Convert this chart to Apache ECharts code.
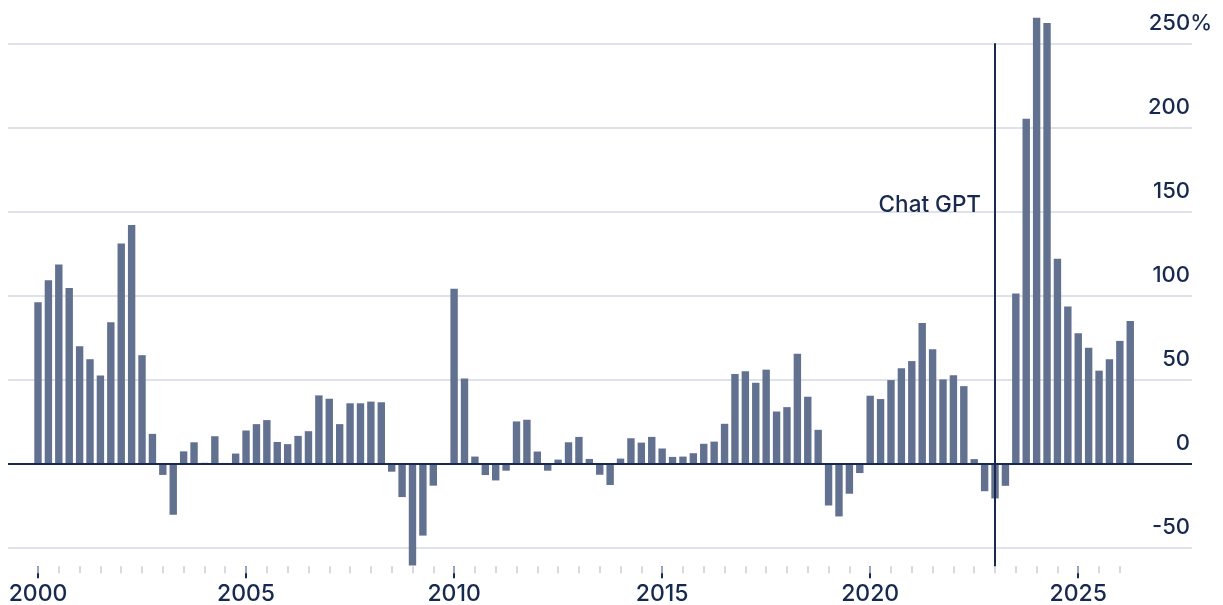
<!DOCTYPE html>
<html><head><meta charset="utf-8">
<script src="https://cdn.jsdelivr.net/npm/echarts@6/dist/echarts.min.js"></script>
<style>html,body{margin:0;padding:0;background:#fff}#c{width:1223px;height:605px}</style>
</head><body><div id="c"></div>
<script>
const quarters = [
 '2000Q1','2000Q2','2000Q3','2000Q4','2001Q1','2001Q2','2001Q3','2001Q4',
 '2002Q1','2002Q2','2002Q3','2002Q4','2003Q1','2003Q2','2003Q3','2003Q4',
 '2004Q1','2004Q2','2004Q3','2004Q4','2005Q1','2005Q2','2005Q3','2005Q4',
 '2006Q1','2006Q2','2006Q3','2006Q4','2007Q1','2007Q2','2007Q3','2007Q4',
 '2008Q1','2008Q2','2008Q3','2008Q4','2009Q1','2009Q2','2009Q3','2009Q4',
 '2010Q1','2010Q2','2010Q3','2010Q4','2011Q1','2011Q2','2011Q3','2011Q4',
 '2012Q1','2012Q2','2012Q3','2012Q4','2013Q1','2013Q2','2013Q3','2013Q4',
 '2014Q1','2014Q2','2014Q3','2014Q4','2015Q1','2015Q2','2015Q3','2015Q4',
 '2016Q1','2016Q2','2016Q3','2016Q4','2017Q1','2017Q2','2017Q3','2017Q4',
 '2018Q1','2018Q2','2018Q3','2018Q4','2019Q1','2019Q2','2019Q3','2019Q4',
 '2020Q1','2020Q2','2020Q3','2020Q4','2021Q1','2021Q2','2021Q3','2021Q4',
 '2022Q1','2022Q2','2022Q3','2022Q4','2023Q1','2023Q2','2023Q3','2023Q4',
 '2024Q1','2024Q2','2024Q3','2024Q4','2025Q1','2025Q2','2025Q3','2025Q4',
 '2026Q1','2026Q2'
];
const values = [
 96, 109, 118.5, 104.4,   69.8, 62.1, 52.4, 84.1,
 131, 142, 64.5, 17.7,    -6.7, -30.4, 7.3, 12.7,
 0.5, 16.3, 0.4, 6,       19.7, 23.5, 25.9, 12.9,
 11.6, 16.5, 19.3, 40.6,  38.6, 23.5, 35.9, 35.9,
 36.9, 36.5, -4.8, -19.9, -60.6, -42.8, -13.1, 0.3,
 104, 50.6, 4.2, -6.8,    -10, -4.2, 25.1, 26.1,
 7.2, -4.2, 2.4, 12.7,    15.9, 2.8, -6.6, -12.7,
 3.0, 15.1, 12.5, 15.9,   9.0, 4.0, 4.2, 6.2,
 11.8, 13.1, 23.7, 53.3,  54.9, 48.1, 55.9, 31.0,
 33.6, 65.4, 39.8, 20.1,  -24.9, -31.4, -17.9, -5.6,
 40.4, 38.4, 49.7, 56.7,  61.0, 83.7, 68.0, 50.1,
 52.5, 46.1, 2.7, -16.4,  -20.7, -13.2, 101.2, 205.2,
 265.2, 262.1, 121.9, 93.5, 77.6, 68.9, 55.3, 62.1,
 73.0, 84.9
];
const yTicks = [-50, 0, 50, 100, 150, 200, 250];
const xLabelYears = [2000, 2005, 2010, 2015, 2020, 2025];
const xHalfYearTicks = [
 2000,2000.5,2001,2001.5,2002,2002.5,2003,2003.5,2004,2004.5,
 2005,2005.5,2006,2006.5,2007,2007.5,2008,2008.5,2009,2009.5,
 2010,2010.5,2011,2011.5,2012,2012.5,2013,2013.5,2014,2014.5,
 2015,2015.5,2016,2016.5,2017,2017.5,2018,2018.5,2019,2019.5,
 2020,2020.5,2021,2021.5,2022,2022.5,2023,2023.5,2024,2024.5,
 2025,2025.5,2026
];
const eventName = 'Chat GPT';
const eventQuarter = '2023Q1';
const eventLabelLevel = 150;
const eventLineTop = 250;

const X_MIN = 1999.279, X_MAX = 2027.734, Y_MIN = -61, Y_MAX = 266;
const NAVY = '#18294f', BAR = '#627190', GRID = '#d4d9e4', MINOR = '#c9ced9';
const FONT = 'Inter';
const WEIGHT = 500;

function qPos(q){ return Number(q.slice(0,4)) + (Number(q.slice(5)) - 1) / 4; }
const barData = quarters.map((q, i) => [qPos(q), values[i]]);
const eventX = qPos(eventQuarter);

const chart = echarts.init(document.getElementById('c'));
const yLabelCommon = {
  color: NAVY, fontFamily: FONT, fontWeight: WEIGHT, fontSize: 22, lineHeight: 22,
  verticalAlign: 'bottom', padding: [0, 0, 9, 0]
};
chart.setOption({
  animation: false,
  backgroundColor: '#fff',
  grid: { left: 8, right: 31, top: 16.4, bottom: 38.8, outerBoundsMode: 'none' },
  xAxis: [
    { type: 'value', min: X_MIN, max: X_MAX, position: 'bottom',
      axisLine: { show: false, onZero: false }, splitLine: { show: false },
      axisTick: { show: true, customValues: xLabelYears, length: 12, lineStyle: { color: NAVY, width: 2 } },
      axisLabel: { customValues: xLabelYears, formatter: v => String(v), margin: 16,
        color: NAVY, fontFamily: FONT, fontWeight: WEIGHT, fontSize: 23, lineHeight: 23 } },
    { type: 'value', min: X_MIN, max: X_MAX, position: 'bottom',
      axisLine: { show: false, onZero: false }, splitLine: { show: false }, axisLabel: { show: false },
      axisTick: { show: true, customValues: xHalfYearTicks, length: 7, lineStyle: { color: MINOR, width: 1.5 } } }
  ],
  yAxis: [
    { type: 'value', min: Y_MIN, max: Y_MAX, position: 'right',
      axisLine: { show: false, onZero: false }, axisTick: { show: false }, splitLine: { show: false },
      axisLabel: Object.assign({ customValues: yTicks.filter(v => v !== 250), inside: true, margin: 2, align: 'right',
        formatter: v => String(v) }, yLabelCommon) },
    { type: 'value', min: Y_MIN, max: Y_MAX, position: 'right',
      axisLine: { show: false, onZero: false }, axisTick: { show: false }, splitLine: { show: false },
      axisLabel: Object.assign({ customValues: [250], inside: false, margin: 20, align: 'right',
        formatter: v => v + '%' }, yLabelCommon) }
  ],
  series: [
    { type: 'bar', xAxisIndex: 0, yAxisIndex: 0, data: barData, barWidth: 7.4,
      itemStyle: { color: BAR }, z: 2, silent: true,
      markLine: { silent: true, symbol: 'none', z: 1, label: { show: false },
        lineStyle: { color: GRID, width: 1.6, type: 'solid' },
        data: yTicks.filter(v => v !== 0).map(v => ({ yAxis: v })) } },
    { type: 'scatter', xAxisIndex: 0, yAxisIndex: 0, data: [[eventX, eventLabelLevel]],
      symbolSize: 0, z: 5, silent: true, itemStyle: { opacity: 1, color: NAVY },
      label: { show: true, formatter: eventName, position: 'left', distance: 14, offset: [0, -6],
        color: NAVY, opacity: 1, fontFamily: FONT, fontWeight: WEIGHT, fontSize: 22.5 },
      markLine: { silent: true, symbol: 'none', z: 5, label: { show: false },
        lineStyle: { color: NAVY, width: 2, type: 'solid' },
        data: [ { yAxis: 0 }, [ { coord: [eventX, eventLineTop] }, { coord: [eventX, Y_MIN] } ] ] } }
  ]
});
</script></body></html>
